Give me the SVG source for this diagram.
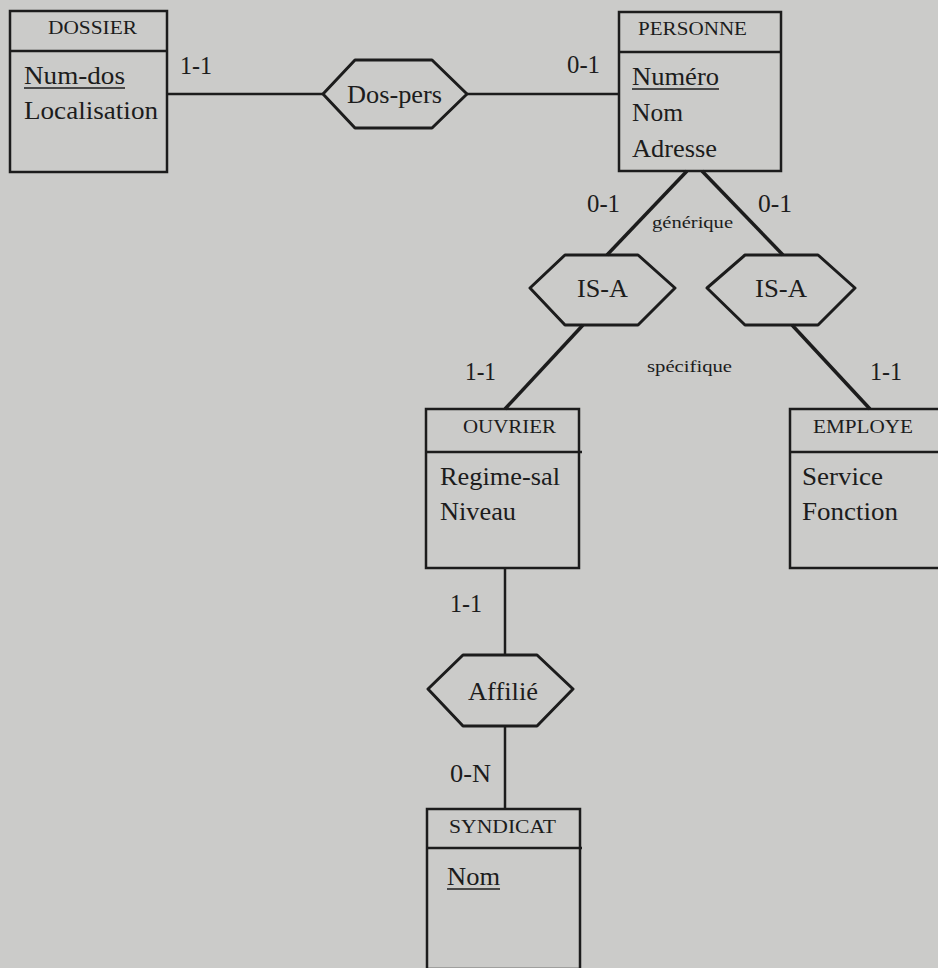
<svg xmlns="http://www.w3.org/2000/svg" width="938" height="968" viewBox="0 0 938 968">
<style>
.bg{fill:#cbcbc9}
.box{fill:none;stroke:#1c1c1c;stroke-width:2.5}
.hex{fill:none;stroke:#1c1c1c;stroke-width:3;stroke-linejoin:round}
.ln{fill:none;stroke:#1c1c1c;stroke-width:2.5}
.lnb{fill:none;stroke:#1c1c1c;stroke-width:3.5}
text{font-family:"Liberation Serif","Times New Roman",serif;fill:#1c1c1c}
.t{font-size:25px}
.h{font-size:18px}
.s{font-size:16px}
.u{stroke:#1c1c1c;stroke-width:1.5}
</style>
<rect class="bg" x="0" y="0" width="938" height="968"/>
<g id="connectors">
<line class="ln" x1="167" y1="94" x2="323" y2="94"/>
<line class="ln" x1="467" y1="94" x2="619" y2="94"/>
<line class="lnb" x1="687" y1="171" x2="607" y2="255"/>
<line class="lnb" x1="702" y1="171" x2="783" y2="255"/>
<line class="lnb" x1="583" y1="325" x2="505" y2="409"/>
<line class="lnb" x1="792" y1="325" x2="870" y2="409"/>
<line class="ln" x1="505" y1="568" x2="505" y2="655"/>
<line class="ln" x1="505" y1="726" x2="505" y2="809"/>
<text class="t" x="180" y="74" textLength="32" lengthAdjust="spacingAndGlyphs">1-1</text>
<text class="t" x="567" y="73" textLength="33" lengthAdjust="spacingAndGlyphs">0-1</text>
<text class="t" x="587" y="212" textLength="33" lengthAdjust="spacingAndGlyphs">0-1</text>
<text class="t" x="758" y="212" textLength="34" lengthAdjust="spacingAndGlyphs">0-1</text>
<text class="s" x="652" y="228" textLength="81" lengthAdjust="spacingAndGlyphs">générique</text>
<text class="s" x="647" y="372" textLength="85" lengthAdjust="spacingAndGlyphs">spécifique</text>
<text class="t" x="465" y="380" textLength="31" lengthAdjust="spacingAndGlyphs">1-1</text>
<text class="t" x="870" y="380" textLength="32" lengthAdjust="spacingAndGlyphs">1-1</text>
<text class="t" x="450" y="612" textLength="32" lengthAdjust="spacingAndGlyphs">1-1</text>
<text class="t" x="450" y="782" textLength="41" lengthAdjust="spacingAndGlyphs">0-N</text>
</g>
<g id="dossier">
<rect class="box" x="10" y="11" width="157" height="161"/>
<line class="box" x1="10" y1="51" x2="168" y2="51"/>
<text class="h" x="48" y="34" textLength="89" lengthAdjust="spacingAndGlyphs">DOSSIER</text>
<text class="t" x="24" y="84" textLength="101" lengthAdjust="spacingAndGlyphs">Num-dos</text>
<line class="u" x1="24" y1="88" x2="125" y2="88"/>
<text class="t" x="24" y="119" textLength="134" lengthAdjust="spacingAndGlyphs">Localisation</text>
</g>
<g id="dos-pers">
<polygon class="hex" points="323,94 355,60 432,60 467,94 432,128 355,128"/>
<text class="t" x="347" y="103" textLength="95" lengthAdjust="spacingAndGlyphs">Dos-pers</text>
</g>
<g id="personne">
<rect class="box" x="619" y="12" width="162" height="159"/>
<line class="box" x1="619" y1="52" x2="781" y2="52"/>
<text class="h" x="638" y="35" textLength="109" lengthAdjust="spacingAndGlyphs">PERSONNE</text>
<text class="t" x="632" y="85" textLength="87" lengthAdjust="spacingAndGlyphs">Numéro</text>
<line class="u" x1="632" y1="89" x2="719" y2="89"/>
<text class="t" x="632" y="121" textLength="51" lengthAdjust="spacingAndGlyphs">Nom</text>
<text class="t" x="632" y="157" textLength="85" lengthAdjust="spacingAndGlyphs">Adresse</text>
</g>
<g id="isa-ouvrier">
<polygon class="hex" points="530,288 565,255 638,255 675,288 638,325 565,325"/>
<text class="t" x="577" y="297" textLength="51" lengthAdjust="spacingAndGlyphs">IS-A</text>
</g>
<g id="isa-employe">
<polygon class="hex" points="707,288 745,255 818,255 855,288 818,325 745,325"/>
<text class="t" x="755" y="297" textLength="52" lengthAdjust="spacingAndGlyphs">IS-A</text>
</g>
<g id="ouvrier">
<rect class="box" x="426" y="409" width="153" height="159"/>
<line class="box" x1="426" y1="452" x2="582" y2="452"/>
<text class="h" x="463" y="433" textLength="93" lengthAdjust="spacingAndGlyphs">OUVRIER</text>
<text class="t" x="440" y="485" textLength="120" lengthAdjust="spacingAndGlyphs">Regime-sal</text>
<text class="t" x="440" y="520" textLength="76" lengthAdjust="spacingAndGlyphs">Niveau</text>
</g>
<g id="employe">
<rect class="box" x="790" y="409" width="160" height="159"/>
<line class="box" x1="790" y1="452" x2="938" y2="452"/>
<text class="h" x="813" y="433" textLength="100" lengthAdjust="spacingAndGlyphs">EMPLOYE</text>
<text class="t" x="802" y="485" textLength="81" lengthAdjust="spacingAndGlyphs">Service</text>
<text class="t" x="802" y="520" textLength="96" lengthAdjust="spacingAndGlyphs">Fonction</text>
</g>
<g id="affilie">
<polygon class="hex" points="428,689 463,655 537,655 573,689 537,726 463,726"/>
<text class="t" x="468" y="700" textLength="70" lengthAdjust="spacingAndGlyphs">Affilié</text>
</g>
<g id="syndicat">
<rect class="box" x="427" y="809" width="153" height="160"/>
<line class="box" x1="427" y1="848" x2="582" y2="848"/>
<text class="h" x="449" y="833" textLength="107" lengthAdjust="spacingAndGlyphs">SYNDICAT</text>
<text class="t" x="447" y="885" textLength="53" lengthAdjust="spacingAndGlyphs">Nom</text>
<line class="u" x1="447" y1="889" x2="500" y2="889"/>
</g>
</svg>
